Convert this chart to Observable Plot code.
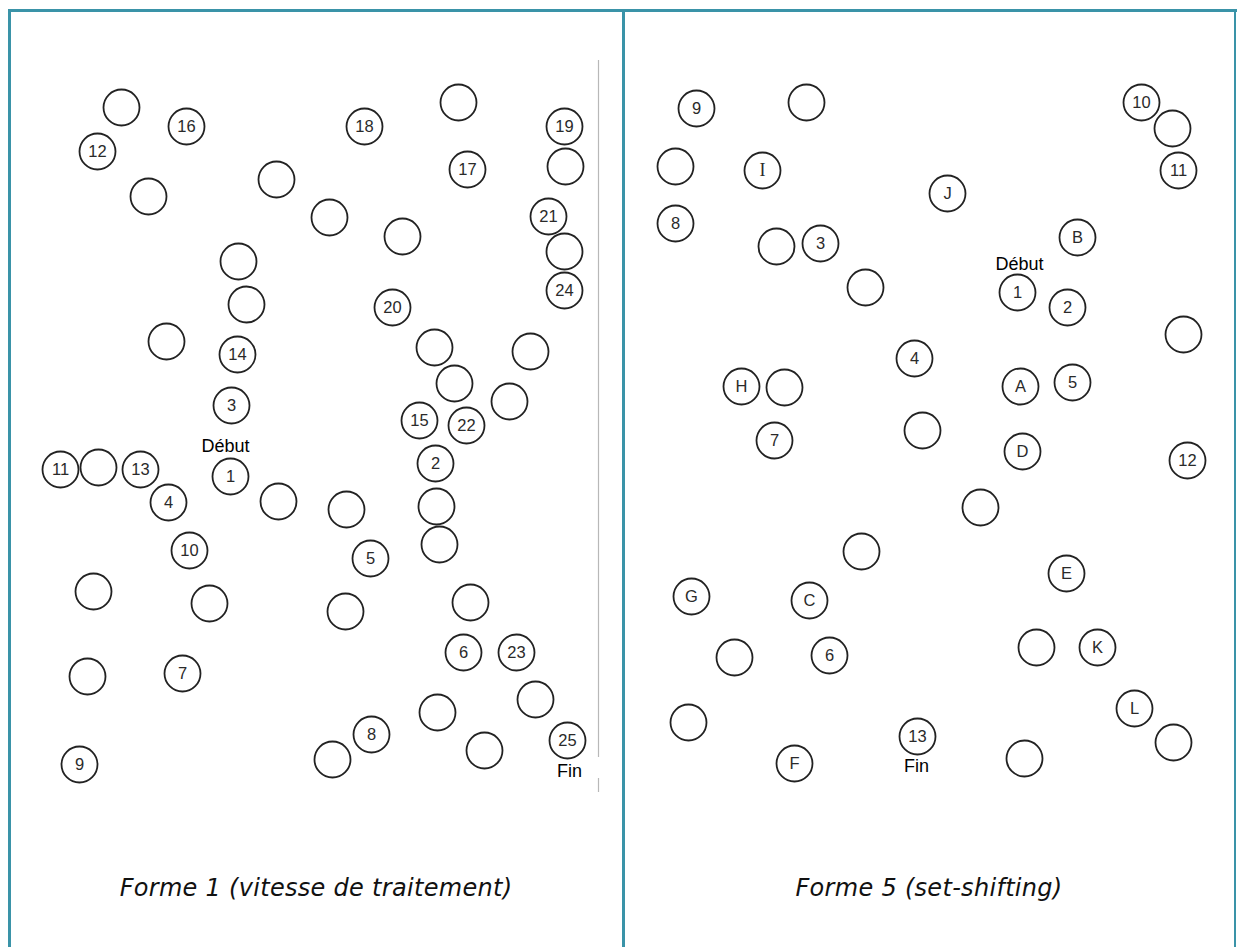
<!DOCTYPE html>
<html>
<head>
<meta charset="utf-8">
<script src="https://cdn.jsdelivr.net/npm/d3@7"></script>
<script src="https://cdn.jsdelivr.net/npm/@observablehq/plot@0.6"></script>
<style>
  html, body { margin: 0; padding: 0; background: #fff; }
  #page { position: relative; width: 1237px; height: 947px; overflow: hidden; background: #fff; }
  .frame { position: absolute; background: #3a93a8; }
  .panel { position: absolute; top: 0; }
  .caption { position: absolute; top: 874px; font-family: "DejaVu Sans", sans-serif; font-style: italic; font-weight: 300; font-size: 24px; color: #111; text-align: center; white-space: nowrap; letter-spacing: 0.3px; }
</style>
</head>
<body>
<div id="page">
  <div id="p1" class="panel" style="left:0px;"></div>
  <div id="p2" class="panel" style="left:625px;"></div>
  <div class="caption" style="left:0px; width:632px;">Forme 1 (vitesse de traitement)</div>
  <div class="caption" style="left:620px; width:618px;">Forme 5 (set-shifting)</div>
  <div class="frame" style="left:8px; top:9px; width:1229px; height:3px;"></div>
  <div class="frame" style="left:8px; top:9px; width:3px; height:938px;"></div>
  <div class="frame" style="left:622px; top:9px; width:3px; height:938px;"></div>
  <div class="frame" style="left:1234px; top:9px; width:2px; height:938px;"></div>
</div>
<script>
// ---- Forme 1 (vitesse de traitement) : labelled circles [label, x, y]
const f1Labels  = ["16","12","18","19","17","21","24","20","14","3","15","22","2","11","13","1","4","10","5","6","23","7","8","25","9"];
const f1LabelX  = [186, 97, 364, 564, 467, 548, 564, 392, 237, 231, 419, 466, 435, 60, 140, 230, 168, 189, 370, 463, 516, 182, 371, 567, 79];
const f1LabelY  = [126, 151, 126, 126, 169, 216, 290, 307, 354, 405, 420, 425, 463, 469, 469, 476, 502, 550, 558, 652, 652, 673, 734, 740, 764];
// Forme 1 : empty circles
const f1EmptyX  = [121, 458, 148, 276, 329, 565, 402, 238, 246, 564, 166, 434, 530, 454, 509, 98, 278, 346, 436, 439, 93, 209, 345, 470, 87, 437, 535, 484, 332];
const f1EmptyY  = [107, 102, 196, 179, 217, 166, 236, 261, 304, 251, 341, 347, 351, 383, 401, 467, 501, 509, 506, 544, 591, 603, 611, 602, 676, 712, 699, 750, 759];
// Forme 1 : words
const f1Words   = ["Début", "Fin"];
const f1WordX   = [225, 569];
const f1WordY   = [446, 771];
// Forme 1 : scan edge (thin grey line)
const f1EdgeX   = [598, 598];
const f1EdgeY1  = [60, 778];
const f1EdgeY2  = [757, 792];

// ---- Forme 5 (set-shifting) : labelled circles
const f5Labels  = ["9","10","11","I","J","8","3","B","1","2","4","H","A","5","7","D","12","E","G","C","6","K","L","13","F"];
const f5LabelX  = [696, 1141, 1178, 762, 947, 675, 820, 1077, 1017, 1067, 914, 741, 1020, 1072, 774, 1022, 1187, 1066, 691, 809, 829, 1097, 1134, 917, 794];
const f5LabelY  = [108, 102, 170, 170, 193, 223, 243, 237, 292, 307, 358, 386, 386, 382, 440, 451, 460, 573, 596, 600, 655, 647, 708, 736, 763];
// Forme 5 : empty circles
const f5EmptyX  = [806, 1172, 675, 776, 865, 1183, 784, 922, 980, 861, 734, 1036, 688, 1173, 1024];
const f5EmptyY  = [102, 128, 166, 246, 287, 334, 387, 430, 507, 551, 657, 647, 722, 742, 758];
// Forme 5 : words
const f5Words   = ["Début", "Fin"];
const f5WordX   = [1019, 916];
const f5WordY   = [264, 766];

const zip3 = (a, xs, ys) => a.map((t, i) => ({t, x: xs[i], y: ys[i]}));
const zip2 = (xs, ys) => xs.map((x, i) => ({x, y: ys[i]}));

function panel(x0, x1, labelled, empty, words, edges) {
  const H = 830;
  const circleStyle = {r: 18, stroke: "#222", strokeWidth: 1.8, fill: "white"};
  const marks = [];
  if (edges) marks.push(Plot.ruleX(edges, {x: "x", y1: "y1", y2: "y2", stroke: "#b8b8b8", strokeWidth: 1.2}));
  marks.push(
    Plot.dot(empty, {x: "x", y: "y", ...circleStyle}),
    Plot.dot(labelled, {x: "x", y: "y", ...circleStyle}),
    Plot.text(labelled.filter(d => d.t !== "I"), {x: "x", y: "y", text: "t", fontSize: 16.5, fill: "#2a2a2a", fontFamily: "Liberation Sans, Arial, sans-serif"}),
    Plot.text(labelled.filter(d => d.t === "I"), {x: "x", y: "y", text: "t", fontSize: 18, fill: "#2a2a2a", fontFamily: "Liberation Serif, serif"}),
    Plot.text(words, {x: "x", y: "y", text: "t", fontSize: 18, fill: "#000", fontFamily: "Liberation Sans, Arial, sans-serif"})
  );
  return Plot.plot({
    width: x1 - x0,
    height: H,
    margin: 0,
    x: {domain: [x0, x1], range: [0, x1 - x0], axis: null},
    y: {domain: [0, H], range: [0, H], axis: null},
    style: {background: "transparent", overflow: "visible"},
    marks
  });
}

const edges1 = f1EdgeX.map((x, i) => ({x, y1: f1EdgeY1[i], y2: f1EdgeY2[i]}));
document.getElementById("p1").append(
  panel(0, 620, zip3(f1Labels, f1LabelX, f1LabelY), zip2(f1EmptyX, f1EmptyY), zip3(f1Words, f1WordX, f1WordY), edges1)
);
document.getElementById("p2").append(
  panel(625, 1235, zip3(f5Labels, f5LabelX, f5LabelY), zip2(f5EmptyX, f5EmptyY), zip3(f5Words, f5WordX, f5WordY), null)
);
</script>
</body>
</html>
